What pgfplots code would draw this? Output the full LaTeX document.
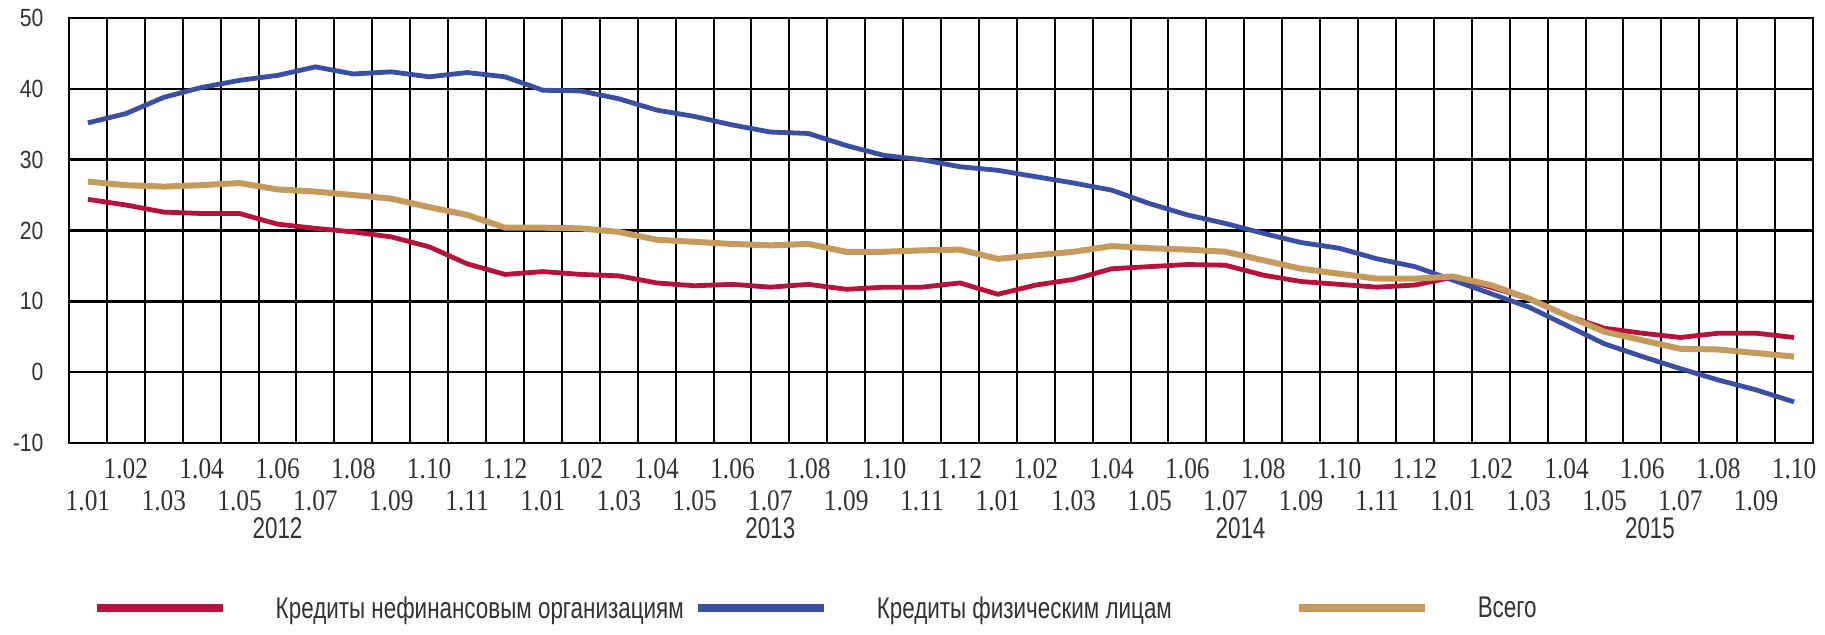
\documentclass[border=0pt]{standalone}
\usepackage{fontspec}
\usepackage{pgfplots}
\pgfplotsset{compat=1.18}
\setmainfont{Liberation Sans}
\newfontfamily\ysans[FakeStretch=0.85]{Liberation Sans}
\newfontfamily\xserif[FakeStretch=0.85]{Liberation Serif}
\newfontfamily\cond[FakeStretch=0.75]{Liberation Sans}
\definecolor{cred}{RGB}{182,18,60}
\definecolor{cblue}{RGB}{58,78,162}
\definecolor{cgold}{RGB}{196,155,92}
\definecolor{ctxt}{RGB}{50,50,50}

% month index 0 = 1.01.2012 ... 45 = 1.10.2015
\pgfplotstableread{
i  nonfin  pers  total
0  24.4  35.2  26.9
1  23.6  36.5  26.4
2  22.6  38.8  26.2
3  22.4  40.2  26.4
4  22.4  41.2  26.7
5  20.9  41.9  25.8
6  20.3  43.1  25.5
7  19.8  42.1  25.0
8  19.1  42.4  24.5
9  17.7  41.7  23.3
10 15.3  42.3  22.2
11 13.8  41.7  20.4
12 14.2  39.8  20.4
13 13.8  39.7  20.3
14 13.6  38.6  19.8
15 12.6  37.0  18.7
16 12.2  36.1  18.4
17 12.4  34.9  18.1
18 12.0  33.9  17.9
19 12.4  33.7  18.1
20 11.7  32.0  17.0
21 12.0  30.6  17.0
22 12.0  30.0  17.2
23 12.6  29.0  17.3
24 11.0  28.5  16.0
25 12.3  27.6  16.5
26 13.1  26.7  17.0
27 14.6  25.7  17.8
28 14.9  23.8  17.5
29 15.2  22.2  17.3
30 15.1  21.0  17.0
31 13.7  19.6  15.8
32 12.8  18.3  14.6
33 12.4  17.5  13.9
34 12.0  16.0  13.2
35 12.3  14.9  13.2
36 13.4  13.0  13.5
37 12.0  11.1  12.3
38 10.4   9.2  10.4
39  8.0   6.6   8.0
40  6.2   4.0   5.7
41  5.5   2.2   4.5
42  4.9   0.5   3.3
43  5.5  -1.1   3.2
44  5.5  -2.5   2.7
45  4.9  -4.2   2.2
}\loans

\begin{document}
\begin{tikzpicture}
\begin{axis}[
    name=ax,
    width=1744bp, height=425bp,
    scale only axis,
    xmin=-0.5, xmax=45.5,
    ymin=-10, ymax=50,
    axis line style={black, line width=2.5bp},
    ytick={-10,0,...,50},
    yticklabels={-10,0,10,20,30,40,50},
    yticklabel style={font=\ysans\fontsize{25}{25}\selectfont, text=ctxt, anchor=east, xshift=-22bp},
    ymajorgrids,
    major grid style={black, line width=2.5bp},
    xtick={1,3,...,45},
    xticklabels={1.02,1.04,1.06,1.08,1.10,1.12,
                 1.02,1.04,1.06,1.08,1.10,1.12,
                 1.02,1.04,1.06,1.08,1.10,1.12,
                 1.02,1.04,1.06,1.08,1.10},
    xticklabel style={font=\xserif\fontsize{30}{30}\selectfont, text=ctxt, anchor=base, yshift=-35bp},
    extra x ticks={0,2,...,44},
    extra x tick labels={1.01,1.03,1.05,1.07,1.09,1.11,
                         1.01,1.03,1.05,1.07,1.09,1.11,
                         1.01,1.03,1.05,1.07,1.09,1.11,
                         1.01,1.03,1.05,1.07,1.09},
    extra x tick style={xticklabel style={yshift=-32bp}},
    minor xtick={-0.5,0.5,...,45.5},
    xminorgrids,
    minor grid style={black, line width=2bp},
    major tick length=0pt, minor tick length=0pt,
    clip=false,
    legend columns=3,
    legend style={at={(0.0135,-0.388)}, anchor=west, draw=none, fill=none,
        inner sep=0pt, font=\cond\fontsize{30}{30}\selectfont, text=ctxt,
        /tikz/every odd column/.append style={column sep=47bp},
        /tikz/every even column/.append style={column sep=0pt}},
    legend image code/.code={\draw[#1, line width=8bp] (0bp,0bp) -- (126bp,0bp);},
]
\addplot[cred, line width=4.8bp] table[x=i, y=nonfin] {\loans};
\addlegendentry{\makebox[416bp][l]{Кредиты нефинансовым организациям}}
\addplot[cblue, line width=4.8bp] table[x=i, y=pers] {\loans};
\addlegendentry{\makebox[416bp][l]{Кредиты физическим лицам}}
\addplot[cgold, line width=6bp] table[x=i, y=total] {\loans};
\addlegendentry{Всего}

\node[font=\cond\fontsize{30}{30}\selectfont, text=ctxt, anchor=base] at ([yshift=-95bp]axis cs:5.0,-10) {2012};
\node[font=\cond\fontsize{30}{30}\selectfont, text=ctxt, anchor=base] at ([yshift=-95bp]axis cs:18,-10) {2013};
\node[font=\cond\fontsize{30}{30}\selectfont, text=ctxt, anchor=base] at ([yshift=-95bp]axis cs:30.4,-10) {2014};
\node[font=\cond\fontsize{30}{30}\selectfont, text=ctxt, anchor=base] at ([yshift=-95bp]axis cs:41.2,-10) {2015};
\end{axis}
\pgfresetboundingbox
\path ([xshift=-69bp,yshift=-191bp]ax.south west) rectangle ([xshift=12bp,yshift=18bp]ax.north east);
\end{tikzpicture}
\end{document}
